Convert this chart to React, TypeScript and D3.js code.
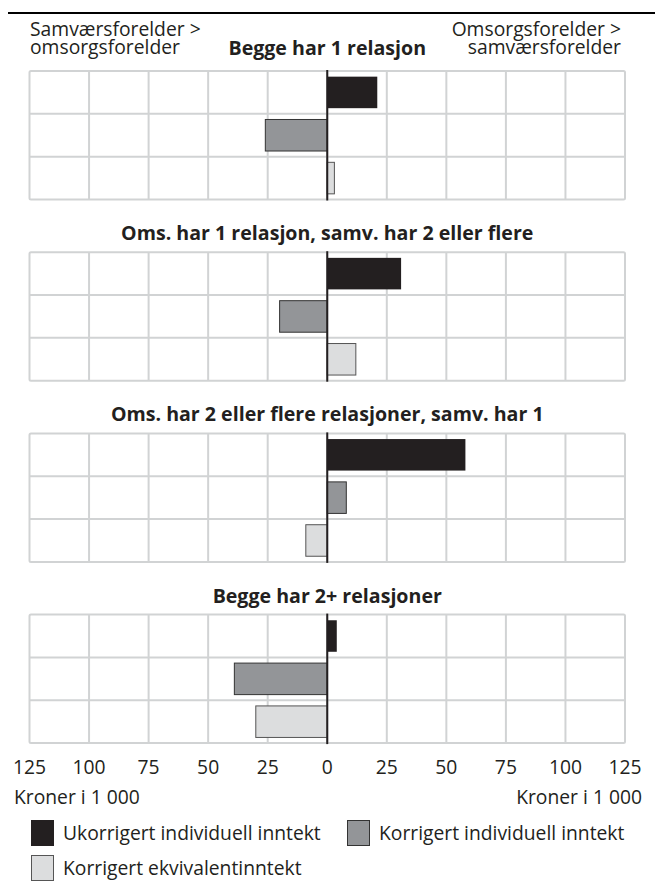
import React from "react";
import * as d3 from "d3";

const panels = [
  "Begge har 1 relasjon",
  "Oms. har 1 relasjon, samv. har 2 eller flere",
  "Oms. har 2 eller flere relasjoner, samv. har 1",
  "Begge har 2+ relasjoner",
];
const seriesNames = [
  "Ukorrigert individuell inntekt",
  "Korrigert individuell inntekt",
  "Korrigert ekvivalentinntekt",
];
const ukorrigert = [21, 31, 58, 4];
const korrigertInd = [-26, -20, 8, -39];
const ekvivalent = [3, 12, -9, -30];
const ticks = [-125, -100, -75, -50, -25, 0, 25, 50, 75, 100, 125];

const fills = ["#231f20", "#939598", "#dcddde"];
const strokes = ["#231f20", "#333333", "#555555"];
const FONT = "'Open Sans', 'Noto Sans', sans-serif";

export default function App() {
  const W = 655;
  const H = 884;
  const x = d3.scaleLinear().domain([-125, 125]).range([29.5, 625]);
  const panelH = 128.5;
  const panelTop = (i: number) => 71 + i * 181.2;
  const values = panels.map((_, i) => [ukorrigert[i], korrigertInd[i], ekvivalent[i]]);
  const grid = "#d1d3d4";
  const fs = 19.3;
  const hfs = 19.3;

  return (
    <svg width={W} height={H} style={{ position: "absolute", left: 0, top: 0, background: "#fff" }} fontFamily={FONT}>
      <line x1={8} x2={655} y1={13} y2={13} stroke="#000" strokeWidth={2} />
      <text x={30} y={36} fontSize={hfs} fill="#231f20">Samværsforelder &gt;</text>
      <text x={30} y={54} fontSize={hfs} fill="#231f20">omsorgsforelder</text>
      <text x={621} y={36} fontSize={hfs} fill="#231f20" textAnchor="end">Omsorgsforelder &gt;</text>
      <text x={621} y={54} fontSize={hfs} fill="#231f20" textAnchor="end">samværsforelder</text>

      {panels.map((title, i) => {
        const top = panelTop(i);
        const y = d3
          .scaleBand<string>()
          .domain(seriesNames)
          .range([top, top + panelH])
          .paddingInner(0.264)
          .paddingOuter(0.132);
        const rowLines = [1, 2].map((k) => top + (panelH * k) / 3);
        return (
          <g key={title}>
            <text
              x={x(0)}
              y={i === 0 ? 55 : top - 12}
              fontSize={19.6}
              fontWeight="bold"
              textAnchor="middle"
              fill="#231f20"
            >
              {title}
            </text>
            {ticks.slice(1, -1).map((t) => (
              <line key={t} x1={x(t)} x2={x(t)} y1={top} y2={top + panelH} stroke={grid} strokeWidth={2} />
            ))}
            {rowLines.map((ry, k) => (
              <line key={k} x1={x(-125)} x2={x(125)} y1={ry} y2={ry} stroke={grid} strokeWidth={2} />
            ))}
            <rect
              x={x(-125)}
              y={top}
              width={x(125) - x(-125)}
              height={panelH}
              fill="none"
              stroke={grid}
              strokeWidth={2}
              rx={1.5}
            />
            {values[i].map((v, s) => (
              <rect
                key={s}
                x={Math.min(x(0), x(v))}
                y={y(seriesNames[s])}
                width={Math.abs(x(v) - x(0))}
                height={y.bandwidth()}
                fill={fills[s]}
                stroke={strokes[s]}
                strokeWidth={s === 0 ? 0 : 1}
              />
            ))}
            <line x1={x(0)} x2={x(0)} y1={top - 1} y2={top + panelH + 1} stroke="#231f20" strokeWidth={2} />
          </g>
        );
      })}

      {ticks.map((t) => (
        <text key={t} x={x(t)} y={774} fontSize={fs} textAnchor="middle" fill="#231f20">
          {Math.abs(t)}
        </text>
      ))}
      <text x={14} y={804} fontSize={fs} fill="#231f20">Kroner i 1 000</text>
      <text x={642} y={804} fontSize={fs} fill="#231f20" textAnchor="end">Kroner i 1 000</text>

      {seriesNames.map((name, s) => {
        const lx = s === 1 ? 347 : 31;
        const ly = s === 2 ? 855 : 820;
        return (
          <g key={name}>
            <rect x={lx + 0.5} y={ly + 0.5} width={22} height={25} fill={fills[s]} stroke={strokes[s]} strokeWidth={1} />
            <text x={lx + 32} y={ly + 19.5} fontSize={fs} fill="#231f20">{name}</text>
          </g>
        );
      })}
    </svg>
  );
}
